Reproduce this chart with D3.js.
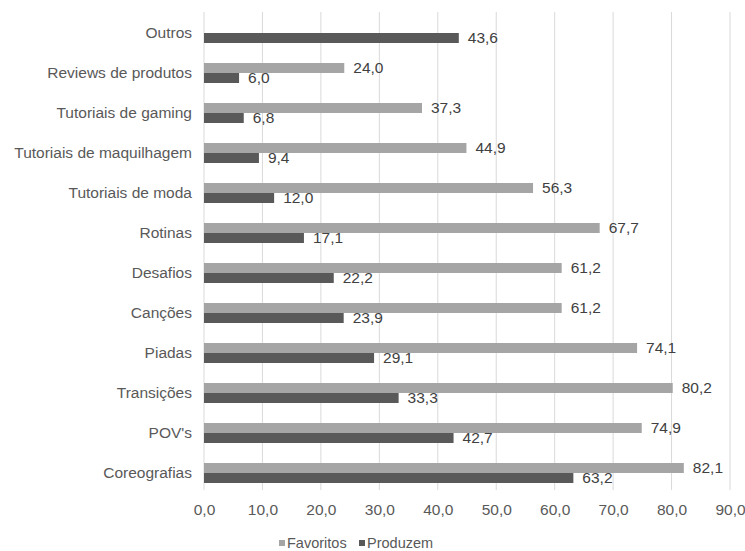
<!DOCTYPE html>
<html>
<head>
<meta charset="utf-8">
<script src="https://cdn.jsdelivr.net/npm/d3@7"></script>
<style>
  html, body { margin: 0; padding: 0; background: #fff; }
  svg { display: block; font-family: "Liberation Sans", Arial, sans-serif; }
</style>
</head>
<body>
<svg id="chart" width="745" height="551"></svg>
<script>
// Categories listed top to bottom
const categories = [
  "Outros", "Reviews de produtos", "Tutoriais de gaming", "Tutoriais de maquilhagem",
  "Tutoriais de moda", "Rotinas", "Desafios", "Canções", "Piadas", "Transições",
  "POV's", "Coreografias"
];
// Percentages; null = no bar
const favoritos = [null, 24.0, 37.3, 44.9, 56.3, 67.7, 61.2, 61.2, 74.1, 80.2, 74.9, 82.1];
const produzem  = [43.6, 6.0, 6.8, 9.4, 12.0, 17.1, 22.2, 23.9, 29.1, 33.3, 42.7, 63.2];
const xTicks = [0, 10, 20, 30, 40, 50, 60, 70, 80, 90];
const seriesNames = ["Favoritos", "Produzem"];
const seriesColors = ["#a5a5a5", "#595959"];

const svg = d3.select("#chart");
const margin = { left: 204, right: 15, top: 13, bottom: 58 };
const W = 745, H = 551;
const FS = 15.5;

const x = d3.scaleLinear().domain([0, 90]).range([margin.left, W - margin.right]);
const y = d3.scaleBand().domain(categories).range([margin.top, H - margin.bottom]).paddingInner(0.5).paddingOuter(0.25);
const sub = d3.scaleBand().domain(seriesNames).range([0, y.bandwidth()]);

const fmt = v => d3.format(".1f")(v).replace(".", ",");

// Vertical gridlines
svg.append("g").selectAll("line").data(xTicks).join("line")
  .attr("x1", d => x(d)).attr("x2", d => x(d))
  .attr("y1", margin.top - 1).attr("y2", H - margin.bottom - 3)
  .attr("stroke", "#d9d9d9").attr("stroke-width", 1);

// X axis tick labels
const xAxis = d3.axisBottom(x).tickValues(xTicks).tickFormat(fmt).tickSize(0).tickPadding(0);
const gx = svg.append("g").attr("transform", `translate(0,${H - margin.bottom + 22})`).call(xAxis);
gx.select(".domain").remove();
gx.selectAll("text").attr("fill", "#595959").attr("font-size", FS).attr("dy", "0");

// Y axis category labels
const yAxis = d3.axisLeft(y).tickSize(0).tickPadding(12);
const gy = svg.append("g").attr("transform", `translate(${margin.left},0)`).call(yAxis);
gy.select(".domain").remove();
gy.selectAll("text").attr("fill", "#595959").attr("font-size", FS);

// Bars and value labels
const series = [favoritos, produzem];
series.forEach((vals, si) => {
  const rows = categories.map((c, i) => ({ c, v: vals[i] })).filter(d => d.v !== null);
  const g = svg.append("g");
  g.selectAll("rect").data(rows).join("rect")
    .attr("x", x(0))
    .attr("y", d => y(d.c) + sub(seriesNames[si]))
    .attr("width", d => x(d.v) - x(0))
    .attr("height", sub.bandwidth())
    .attr("fill", seriesColors[si]);
  g.selectAll("text").data(rows).join("text")
    .attr("x", d => x(d.v) + 9)
    .attr("y", d => y(d.c) + sub(seriesNames[si]) + sub.bandwidth() / 2)
    .attr("dy", "0.35em")
    .attr("font-size", FS)
    .attr("fill", "#404040")
    .text(d => fmt(d.v));
});

// Legend
const legend = svg.append("g").attr("transform", `translate(0,${H - 3})`);
const items = [{ n: seriesNames[0], c: seriesColors[0], x: 279 }, { n: seriesNames[1], c: seriesColors[1], x: 359 }];
items.forEach(it => {
  legend.append("rect").attr("x", it.x).attr("y", -8).attr("width", 6).attr("height", 6).attr("fill", it.c);
  legend.append("text").attr("x", it.x + 8).attr("y", 0).attr("font-size", 14.5).attr("fill", "#595959").text(it.n);
});
</script>
</body>
</html>
